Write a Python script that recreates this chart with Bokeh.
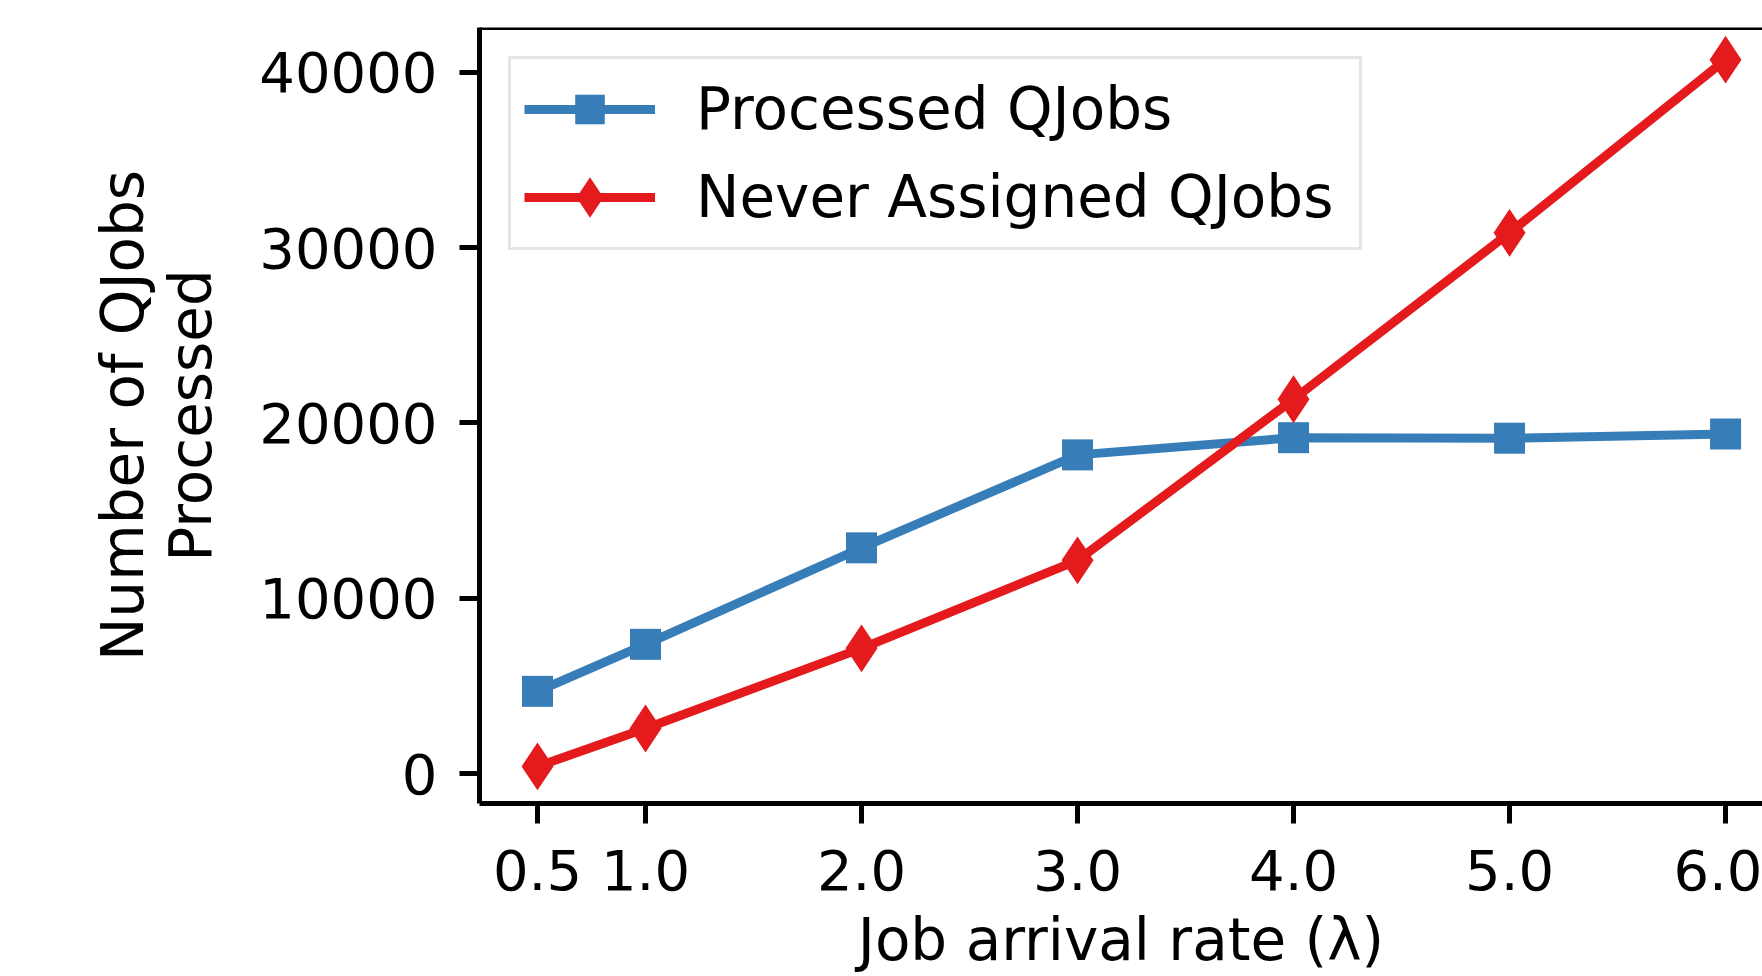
from bokeh.plotting import figure
from bokeh.models import Range1d, FixedTicker, NumeralTickFormatter, Span
from bokeh.embed import file_html
from bokeh.resources import INLINE

# ---- data ----
arrival_rates = [0.5, 1.0, 2.0, 3.0, 4.0, 5.0, 6.0]
processed_qjobs = [4700, 7380, 12880, 18180, 19160, 19130, 19370]
never_assigned_qjobs = [420, 2580, 7150, 12170, 21350, 30840, 40710]
x_ticks = [0.5, 1.0, 2.0, 3.0, 4.0, 5.0, 6.0]
y_ticks = [0, 10000, 20000, 30000, 40000]
series_names = ["Processed QJobs", "Never Assigned QJobs"]
x_label = "Job arrival rate (λ)"
y_label = "Number of QJobs\nProcessed"

BLUE = "#377eb8"
RED = "#e41a1c"
FONT = "DejaVu Sans"
TICK_FS = "56px"
LABEL_FS = "58px"

W, H = 1762, 976
X0, X1 = 0.2315, 6.171
Y0, Y1 = -1694, 42544

p = figure(width=W, height=H, output_backend="svg", toolbar_location=None,
           x_range=Range1d(X0, X1), y_range=Range1d(Y0, Y1),
           min_border_left=479, min_border_top=27, min_border_right=0,
           min_border_bottom=173)

p.outline_line_color = None
p.xgrid.visible = False
p.ygrid.visible = False
p.background_fill_color = "white"
p.border_fill_color = "white"

# lines + markers
p.line(arrival_rates, processed_qjobs, line_color=BLUE, line_width=9,
       legend_label=series_names[0])
p.scatter(arrival_rates, processed_qjobs, marker="square", size=31,
          fill_color=BLUE, line_color=None, legend_label=series_names[0])
p.line(arrival_rates, never_assigned_qjobs, line_color=RED, line_width=9,
       legend_label=series_names[1])
p.scatter(arrival_rates, never_assigned_qjobs, marker="diamond", size=37,
          fill_color=RED, line_color=RED, line_width=6, line_join="miter",
          legend_label=series_names[1])

# top spine
p.add_layout(Span(location=Y1, dimension="width", line_color="black", line_width=5))

# axes
for ax in (p.xaxis[0], p.yaxis[0]):
    ax.axis_line_color = "black"
    ax.axis_line_width = 5
    ax.major_tick_line_color = "black"
    ax.major_tick_line_width = 5
    ax.major_tick_out = 20
    ax.major_tick_in = 0
    ax.minor_tick_line_color = None
    ax.major_label_text_font = FONT
    ax.major_label_text_font_size = TICK_FS
    ax.major_label_text_color = "black"
    ax.axis_label_text_font = FONT
    ax.axis_label_text_font_size = LABEL_FS
    ax.axis_label_text_font_style = "normal"
    ax.axis_label_text_color = "black"

p.xaxis[0].ticker = FixedTicker(ticks=x_ticks)
p.xaxis[0].formatter = NumeralTickFormatter(format="0.0")
p.xaxis[0].major_label_standoff = 26
p.xaxis[0].major_label_text_line_height = 1.0
p.xaxis[0].axis_label = x_label
p.xaxis[0].axis_label_standoff = 13
p.xaxis[0].axis_label_text_line_height = 1.0

p.yaxis[0].ticker = FixedTicker(ticks=y_ticks)
p.yaxis[0].formatter = NumeralTickFormatter(format="0")
p.yaxis[0].major_label_standoff = 22
p.yaxis[0].axis_label = y_label
p.yaxis[0].axis_label_standoff = 31
p.yaxis[0].axis_label_text_line_height = 1.0

# legend
lg = p.legend[0]
lg.location = "top_left"
lg.margin = 29
lg.padding = 13
lg.spacing = 14
lg.glyph_height = 74
lg.glyph_width = 131
lg.label_standoff = 41
lg.label_width = 650
lg.label_text_font = FONT
lg.label_text_font_size = LABEL_FS
lg.label_text_color = "black"
lg.border_line_color = "#cccccc"
lg.border_line_width = 3
lg.background_fill_color = "white"
lg.background_fill_alpha = 0.8

open("out.html", "w").write(file_html(p, INLINE))
